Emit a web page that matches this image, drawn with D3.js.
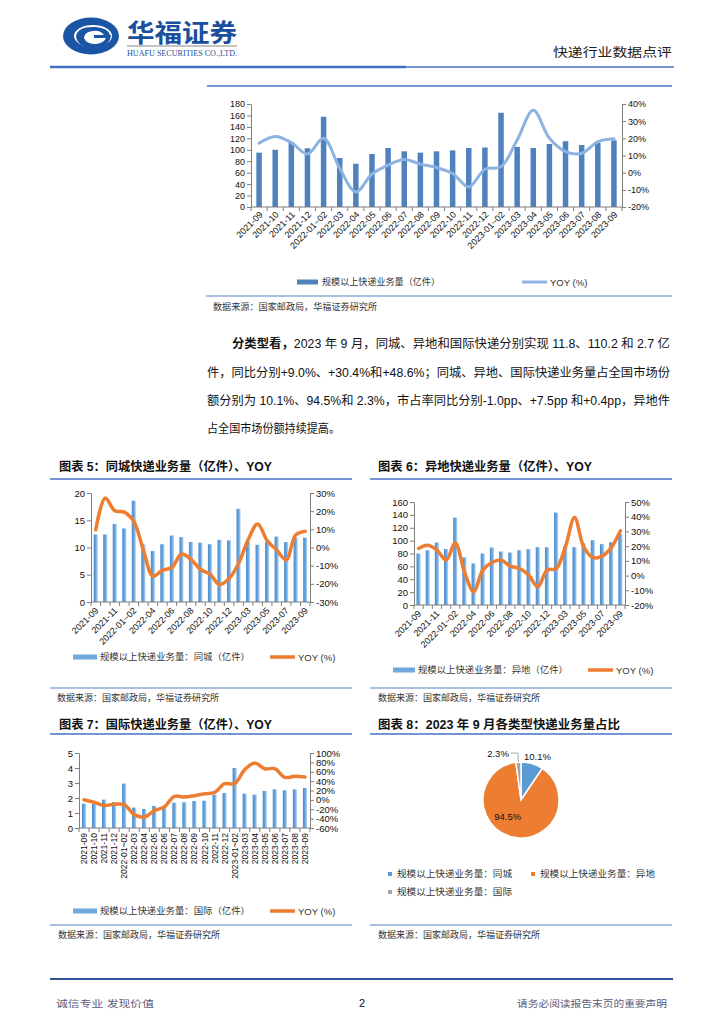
<!DOCTYPE html>
<html><head><meta charset="utf-8">
<script src="https://cdn.jsdelivr.net/npm/d3@7"></script>
<style>body{margin:0;background:#fff}svg{display:block}text{font-family:"Liberation Sans","Noto Sans CJK SC",sans-serif}</style>
</head><body>
<script>
// ---------- DATA ----------
const categories = ["2021-09","2021-10","2021-11","2021-12","2022-01~02","2022-03","2022-04","2022-05","2022-06","2022-07","2022-08","2022-09","2022-10","2022-11","2022-12","2023-01~02","2023-03","2023-04","2023-05","2023-06","2023-07","2023-08","2023-09"];
const totalVolume = [95,100,113,102.6,157.7,85.6,75.6,92.6,103,97.3,95,97.3,99,103,104,164.7,105,103,110,115,108.4,112,116.5];
const totalYoy = [17.1,21,17.5,10.9,20,2.5,-11.2,-0.8,4.4,7.7,5,3,-0.5,-8.3,2,3.5,19,36.3,20,12.3,11.3,18,19.7];
const localVolume = [12.4,12.4,14.3,13.5,18.6,10.6,9.35,10.6,12.2,11.9,11.0,10.9,10.6,11.4,11.3,17.1,11.0,10.5,11.0,12.0,11.0,11.8,11.8];
const localYoy = [9.7,27.2,20.2,19.5,14.3,-1.4,-15.8,-12.5,-11,-3.6,-6.5,-12.1,-14.7,-20.4,-17.1,-8.8,4.2,13,3.8,-1.4,-6.9,6.9,9.0];
const interCityVolume = [80,85,97,87,135.7,73.8,64.5,80,89.3,83,81.5,85,86.7,89.8,89.8,143.5,91.4,89.8,96,100.6,94.5,97.5,110.2];
const interCityYoy = [18.4,20.6,17.3,10.5,22.2,2.6,-11,3.7,8.9,10.5,6.4,4.8,0.3,-7.6,3.7,4.8,19.5,39.4,19.5,12.3,13.2,19,30.4];
const intlVolume = [1.62,1.6,1.89,1.73,2.96,1.36,1.27,1.47,1.45,1.69,1.71,1.8,1.82,2.22,2.33,4.0,2.29,2.22,2.47,2.58,2.51,2.58,2.67];
const intlYoy = [0.4,-5,-11.7,-9.5,-10,-31.5,-36.5,-23,-15,7.5,6,9,13,16,34.6,34.6,64.4,78.6,66.5,66.5,48,50.2,48.6];
const pieLabels = ["规模以上快递业务量：同城","规模以上快递业务量：异地","规模以上快递业务量：国际"];
const pieShares = [10.1,94.5,2.3];
const pieColors = ["#5b9bd5","#ed7d31","#a5a5a5"];
const totalLeftTicks = [0,20,40,60,80,100,120,140,160,180];
const totalRightTicks = [-20,-10,0,10,20,30,40];
const localLeftTicks = [0,5,10,15,20];
const localRightTicks = [-30,-20,-10,0,10,20,30];
const interLeftTicks = [0,20,40,60,80,100,120,140,160];
const interRightTicks = [-20,-10,0,10,20,30,40,50];
const intlLeftTicks = [0,1,2,3,4,5];
const intlRightTicks = [-60,-40,-20,0,20,40,60,80,100];
const paragraph = [
  {bold:"分类型看，", rest:"2023 年 9 月，同城、异地和国际快递分别实现 11.8、110.2 和 2.7 亿"},
  {bold:"", rest:"件，同比分别+9.0%、+30.4%和+48.6%；同城、异地、国际快递业务量占全国市场份"},
  {bold:"", rest:"额分别为 10.1%、94.5%和 2.3%，市占率同比分别-1.0pp、+7.5pp 和+0.4pp，异地件"},
  {bold:"", rest:"占全国市场份额持续提高。"}
];

// ---------- SVG ----------
const svg = d3.select("body").append("svg").attr("width",724).attr("height",1024);
const defs = svg.append("defs");
const g1 = defs.append("linearGradient").attr("id","barGrad").attr("x1",0).attr("x2",1).attr("y1",0).attr("y2",0);
g1.append("stop").attr("offset","0%").attr("stop-color","#4a8cd0");
g1.append("stop").attr("offset","55%").attr("stop-color","#68a5de");
g1.append("stop").attr("offset","100%").attr("stop-color","#c9def3");

function txt(x,y,s,o={}){
  const t = svg.append("text").attr("x",x).attr("y",y).attr("dominant-baseline","central")
    .attr("font-size",o.size||9).attr("fill",o.fill||"#222").text(s);
  if(o.anchor) t.attr("text-anchor",o.anchor);
  if(o.weight) t.attr("font-weight",o.weight);
  if(o.len) t.attr("textLength",o.len).attr("lengthAdjust","spacingAndGlyphs");
  if(o.family) t.style("font-family",o.family);
  return t;
}
function hline(x1,x2,y,color,w){
  svg.append("line").attr("x1",x1).attr("x2",x2).attr("y1",y).attr("y2",y).attr("stroke",color).attr("stroke-width",w);
}

// ---------- HEADER ----------
const logo = svg.append("g");
logo.append("ellipse").attr("cx",91).attr("cy",36).attr("rx",28).attr("ry",18.5).attr("fill","#1b56a6");
logo.append("ellipse").attr("cx",93).attr("cy",36).attr("rx",19).attr("ry",11).attr("fill","#fff");
logo.append("path").attr("d","M76,36 Q78,26 96,27 Q108,28 110,35 L104,35 Q100,30 93,31 Q84,32 84,38 Q86,44 96,44 Q104,43 106,38 L94,38 L94,35 L111,35 Q110,47 94,48 Q77,47 76,36 Z").attr("fill","#1b56a6");
txt(127,31,"华福证券",{size:25,weight:"bold",fill:"#1b4f9c",len:110,family:"'Noto Sans CJK SC'"});
hline(127,237,46,"#b0b0b0",1.5);
txt(127,53,"HUAFU SECURITIES CO.,LTD.",{size:7.5,fill:"#1b4f9c",len:110,family:"'Liberation Serif'"});
txt(672,53,"快递行业数据点评",{size:12.5,anchor:"end",fill:"#222",len:119});
hline(50,406,67,"#4472c4",2.5);
hline(406,674,67,"#4472c4",1.5);
hline(207,672,86,"#4472c4",1.5);

// ---------- COMBO CHART ----------
function combo(o){
  const x = d3.scaleBand().domain(categories).range([o.x0,o.x1]);
  const yL = d3.scaleLinear().domain(o.leftDomain).range([o.y1,o.y0]);
  const yR = d3.scaleLinear().domain(o.rightDomain).range([o.y1,o.y0]);
  const g = svg.append("g");
  const cx = d => x(d)+x.bandwidth()/2;
  // bars
  g.selectAll("rect.bar").data(o.bars).enter().append("rect")
    .attr("x",(d,i)=>cx(categories[i])-o.barWidth/2).attr("width",o.barWidth)
    .attr("y",d=>yL(d)).attr("height",d=>o.y1-yL(d)).attr("fill",o.barFill);
  // axes
  const la = g.append("g").attr("transform",`translate(${o.x0},0)`)
    .call(d3.axisLeft(yL).tickValues(o.leftTicks).tickSize(4).tickSizeOuter(0).tickPadding(2).tickFormat(d=>String(d)));
  const ra = g.append("g").attr("transform",`translate(${o.x1},0)`)
    .call(d3.axisRight(yR).tickValues(o.rightTicks).tickSize(4).tickSizeOuter(0).tickPadding(2).tickFormat(d=>d+"%"));
  [la,ra].forEach(a=>{
    a.selectAll("path,line").attr("stroke","#7f7f7f");
    a.selectAll("text").attr("font-size",o.tickSize).attr("fill","#111").style("font-family","'Liberation Sans'");
  });
  // bottom axis
  g.append("line").attr("x1",o.x0).attr("x2",o.x1).attr("y1",o.y1).attr("y2",o.y1).attr("stroke","#7f7f7f");
  g.selectAll("line.xt").data(d3.range(categories.length+1)).enter().append("line")
    .attr("x1",i=>o.x0+i*x.step()).attr("x2",i=>o.x0+i*x.step())
    .attr("y1",o.y1).attr("y2",o.y1+4).attr("stroke","#7f7f7f");
  categories.forEach((c,i)=>{
    if(i % o.labelEvery) return;
    let ax, ay;
    if(o.rotate===-90){ ax = cx(c); ay = o.y1+5; }
    else { ax = cx(c)+o.labelDx; ay = o.y1+o.labelDy; }
    g.append("text").attr("x",ax).attr("y",ay).attr("text-anchor","end").attr("dy","0.35em")
      .attr("transform",`rotate(${o.rotate},${ax},${ay})`).attr("font-size",o.labelSize)
      .attr("fill","#111").style("font-family","'Liberation Sans'").text(c);
  });
  // line
  const line = d3.line().x((d,i)=>cx(categories[i])).y(d=>yR(d)).curve(d3.curveCatmullRom.alpha(0.5));
  g.append("path").attr("d",line(o.line)).attr("fill","none").attr("stroke",o.lineColor)
    .attr("stroke-width",o.lineWidth).attr("stroke-linejoin","round").attr("stroke-linecap","round");
  // legend
  const L = o.legend;
  g.append("rect").attr("x",L.bx).attr("y",L.y-L.bh/2).attr("width",L.bw).attr("height",L.bh).attr("fill",L.bfill);
  txt(L.tx,L.y,L.label,{size:9,len:L.tlen,fill:"#333"});
  g.append("line").attr("x1",L.lx).attr("x2",L.lx+L.lw).attr("y1",L.y).attr("y2",L.y)
    .attr("stroke",o.lineColor).attr("stroke-width",o.lineWidth);
  txt(L.lx+L.lw+3,L.y,"YOY (%)",{size:9.5,fill:"#333"});
}

// top chart
combo({x0:251,x1:622,y0:104,y1:207,leftDomain:[0,180],rightDomain:[-20,40],
  leftTicks:totalLeftTicks,rightTicks:totalRightTicks,bars:totalVolume,line:totalYoy,
  barFill:"#4f81bd",barWidth:5.5,lineColor:"#8db3e2",lineWidth:3,tickSize:9,
  labelEvery:1,rotate:-45,labelDx:2,labelDy:6,labelSize:9,
  legend:{y:282,bx:297,bw:21,bh:5,bfill:"#4f81bd",tx:322,label:"规模以上快递业务量（亿件）",tlen:118,lx:522,lw:25}});
hline(206,672,296,"#8eaadb",1.5);
txt(213,307,"数据来源：国家邮政局，华福证券研究所",{size:9,len:164,fill:"#333"});

// paragraph
const pY = [344,372.5,401,429];
const pX = [232,207,207,207];
const pLen = [438,463,463,133];
paragraph.forEach((p,i)=>{
  const t = svg.append("text").attr("x",pX[i]).attr("y",pY[i]).attr("dominant-baseline","central")
    .attr("font-size",12).attr("fill","#111").attr("textLength",pLen[i]).attr("lengthAdjust","spacingAndGlyphs");
  if(p.bold) t.append("tspan").attr("font-weight","bold").text(p.bold);
  t.append("tspan").text(p.rest);
});

// chart titles & frames
txt(59,467,"图表 5：同城快递业务量（亿件）、YOY",{size:12,weight:"bold",len:213,fill:"#111"});
txt(378,467,"图表 6：异地快递业务量（亿件）、YOY",{size:12,weight:"bold",len:214,fill:"#111"});
hline(50,352,479,"#4472c4",1.5);
hline(370,672,479,"#4472c4",1.5);
hline(50,352,688,"#8eaadb",1.5);
hline(370,672,688,"#8eaadb",1.5);
txt(57,698,"数据来源：国家邮政局，华福证券研究所",{size:9,len:162,fill:"#333"});
txt(378,698,"数据来源：国家邮政局，华福证券研究所",{size:9,len:162,fill:"#333"});

txt(59,725,"图表 7：国际快递业务量（亿件）、YOY",{size:12,weight:"bold",len:213,fill:"#111"});
txt(378,725,"图表 8：2023 年 9 月各类型快递业务量占比",{size:12,weight:"bold",len:242,fill:"#111"});
hline(50,352,734,"#4472c4",1.5);
hline(370,672,734,"#4472c4",1.5);
hline(50,352,925,"#8eaadb",1.5);
hline(370,672,925,"#8eaadb",1.5);
txt(58,935,"数据来源：国家邮政局，华福证券研究所",{size:9,len:162,fill:"#333"});
txt(378,935,"数据来源：国家邮政局，华福证券研究所",{size:9,len:162,fill:"#333"});

// chart 5
combo({x0:91,x1:310,y0:493,y1:602,leftDomain:[0,20],rightDomain:[-30,30],
  leftTicks:localLeftTicks,rightTicks:localRightTicks,bars:localVolume,line:localYoy,
  barFill:"url(#barGrad)",barWidth:4.2,lineColor:"#ed7d31",lineWidth:3.5,tickSize:9.5,
  labelEvery:2,rotate:-45,labelDx:1,labelDy:7,labelSize:9,
  legend:{y:657,bx:73,bw:24,bh:5,bfill:"#6fa8dc",tx:100,label:"规模以上快递业务量：同城（亿件）",tlen:150,lx:270,lw:25}});
// chart 6
combo({x0:414,x1:625,y0:502,y1:605,leftDomain:[0,160],rightDomain:[-20,50],
  leftTicks:interLeftTicks,rightTicks:interRightTicks,bars:interCityVolume,line:interCityYoy,
  barFill:"url(#barGrad)",barWidth:4.2,lineColor:"#ed7d31",lineWidth:3.5,tickSize:9.5,
  labelEvery:2,rotate:-45,labelDx:1,labelDy:7,labelSize:9,
  legend:{y:670,bx:393,bw:22,bh:5,bfill:"#6fa8dc",tx:418,label:"规模以上快递业务量：异地（亿件）",tlen:150,lx:588,lw:25}});
// chart 7
combo({x0:79,x1:310,y0:753,y1:828,leftDomain:[0,5],rightDomain:[-60,100],
  leftTicks:intlLeftTicks,rightTicks:intlRightTicks,bars:intlVolume,line:intlYoy,
  barFill:"url(#barGrad)",barWidth:4.2,lineColor:"#ed7d31",lineWidth:3.5,tickSize:9.5,
  labelEvery:1,rotate:-90,labelDx:0,labelDy:5,labelSize:8.5,
  legend:{y:911,bx:73,bw:24,bh:5,bfill:"#6fa8dc",tx:100,label:"规模以上快递业务量：国际（亿件）",tlen:150,lx:270,lw:25}});

// chart 8 pie
const pcx = 521, pcy = 800, pr = 38;
const pie = d3.pie().sort(null).value(d=>d)(pieShares);
const arc = d3.arc().innerRadius(0).outerRadius(pr);
const pg = svg.append("g").attr("transform",`translate(${pcx},${pcy})`);
pg.selectAll("path").data(pie).enter().append("path").attr("d",arc)
  .attr("fill",(d,i)=>pieColors[i]).attr("stroke","#fff").attr("stroke-width",1.5);
function polar(a,r){ return [r*Math.sin(a), -r*Math.cos(a)]; }
const aBlue = (pie[0].startAngle+pie[0].endAngle)/2;
const pb = polar(aBlue, pr+8);
pg.append("text").attr("x",pb[0]+3).attr("y",pb[1]).attr("text-anchor","middle").attr("dominant-baseline","central")
  .attr("font-size",9.5).attr("fill","#111").text(pieShares[0].toFixed(1)+"%");
const co = arc.centroid(pie[1]);
pg.append("text").attr("x",co[0]-9).attr("y",co[1]-2).attr("text-anchor","middle").attr("dominant-baseline","central")
  .attr("font-size",9.5).attr("fill","#111").text(pieShares[1].toFixed(1)+"%");
const aGray = (pie[2].startAngle+pie[2].endAngle)/2;
const pg0 = polar(aGray, pr), pg1 = polar(aGray, pr+9);
pg.append("polyline").attr("points",`${pg0[0]},${pg0[1]} ${pg1[0]},${pg1[1]} ${pg1[0]-7},${pg1[1]}`)
  .attr("fill","none").attr("stroke","#a6a6a6").attr("stroke-width",1);
pg.append("text").attr("x",pg1[0]-9).attr("y",pg1[1]).attr("text-anchor","end").attr("dominant-baseline","central")
  .attr("font-size",9.5).attr("fill","#111").text(pieShares[2].toFixed(1)+"%");
const legPos = [[390,874],[533,874],[390,892]];
pieLabels.forEach((l,i)=>{
  svg.append("rect").attr("x",legPos[i][0]-2).attr("y",legPos[i][1]-2).attr("width",4).attr("height",4).attr("fill",pieColors[i]);
  txt(legPos[i][0]+7,legPos[i][1],l,{size:9,len:115,fill:"#333"});
});

// ---------- FOOTER ----------
hline(50,673,979,"#2f5597",2);
txt(56,1003,"诚信专业  发现价值",{size:9.5,len:98,fill:"#5a5a7a"});
txt(362,1003,"2",{size:11,anchor:"middle",fill:"#111"});
txt(667,1003,"请务必阅读报告末页的重要声明",{size:9.5,anchor:"end",len:150,fill:"#5a5a7a"});
</script>
</body></html>
